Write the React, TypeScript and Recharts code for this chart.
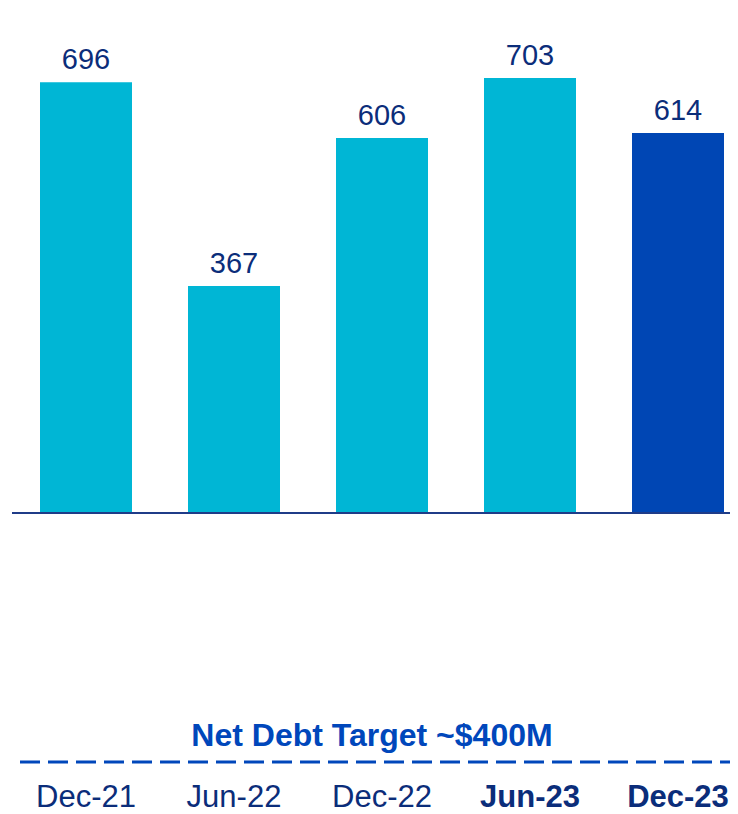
import React from 'react';
import { BarChart, Bar, XAxis, YAxis, Cell, LabelList } from 'recharts';

const periods = ['Dec-21', 'Jun-22', 'Dec-22', 'Jun-23', 'Dec-23'];
const netDebt = [696, 367, 606, 703, 614];
const boldPeriods = ['Jun-23', 'Dec-23'];
const highlightPeriod = 'Dec-23';
const targetText = 'Net Debt Target ~$400M';

const data = periods.map((p, i) => ({ period: p, value: netDebt[i] }));

const FONT = '"Liberation Sans", Arial, sans-serif';
const NAVY = '#0B2D7A';
const BLUE = '#0047BB';

const PeriodTick = ({ x, payload }: any) => (
  <text
    x={x}
    y={799}
    textAnchor="middle"
    fontSize={31}
    fontFamily={FONT}
    fontWeight={boldPeriods.includes(payload.value) ? 700 : 400}
    fill={NAVY}
  >
    {payload.value}
  </text>
);

// target caption + dashed rule, drawn under the axis
const TargetLine = () => (
  <g>
    <text x={364} y={738} textAnchor="middle" fontSize={32} fontWeight={700} fontFamily={FONT} fill={BLUE}>
      {targetText}
    </text>
    <line x1={12} x2={744} y1={754} y2={754} stroke={BLUE} strokeWidth={3} strokeDasharray="20 8" />
  </g>
);

export default function App() {
  return (
    <div style={{ width: 730, height: 806, overflow: 'hidden' }}>
      <BarChart width={744} height={806} data={data} margin={{ top: 10, right: 0, left: 4, bottom: 0 }}>
        <YAxis hide domain={[0, 800]} />
        <XAxis
          dataKey="period"
          height={301}
          interval={0}
          tickLine={false}
          axisLine={{ stroke: '#1F3C88', strokeWidth: 2 }}
          tick={<PeriodTick />}
          label={<TargetLine />}
        />
        <Bar dataKey="value" barSize={92} isAnimationActive={false}>
          {data.map((d) => (
            <Cell key={d.period} fill={d.period === highlightPeriod ? '#0046B4' : '#00B6D5'} />
          ))}
          <LabelList dataKey="value" position="top" offset={13} fill={NAVY} fontSize={29} fontFamily={FONT} />
        </Bar>
      </BarChart>
    </div>
  );
}
